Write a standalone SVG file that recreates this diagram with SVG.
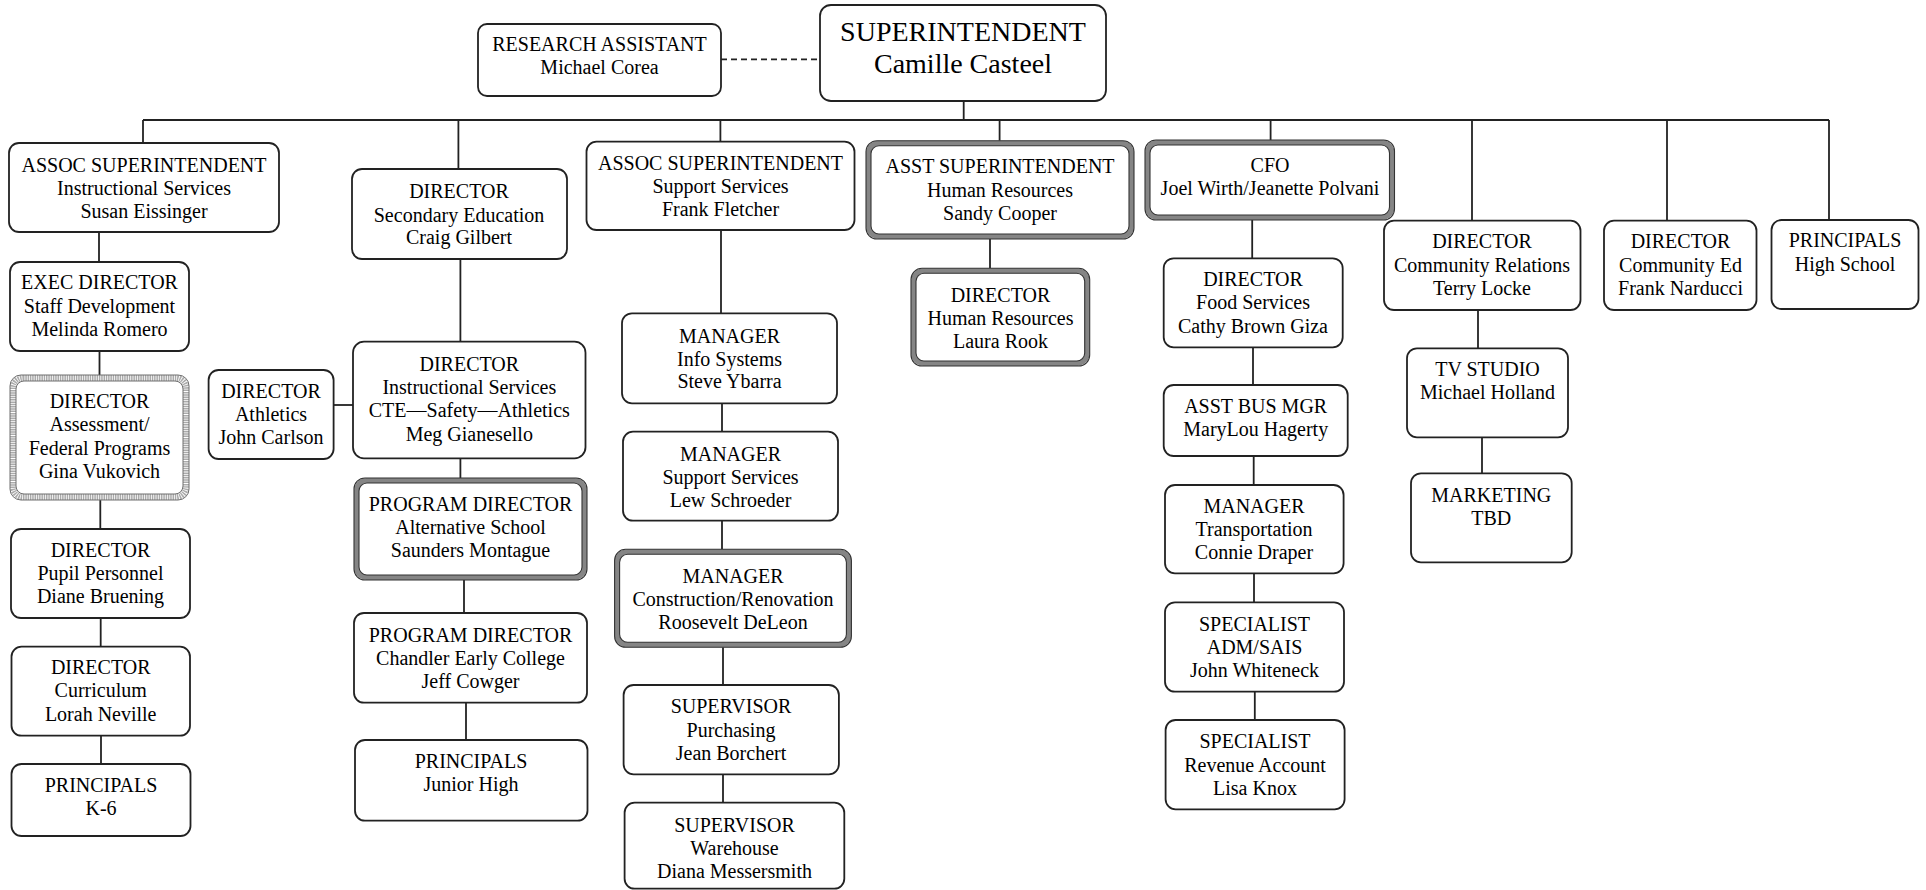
<svg xmlns="http://www.w3.org/2000/svg" width="1926" height="890" viewBox="0 0 1926 890">
<style>
.b{fill:#fff;stroke:#222;stroke-width:1.8}
.band{fill:#fff;stroke:#858585;stroke-width:5}
.lband{fill:#fff;stroke:#ababab;stroke-width:6;stroke-dasharray:1.5,0.8}
.edge{fill:none;stroke:#333;stroke-width:1.1}
.ledge{fill:none;stroke:#6f6f6f;stroke-width:1}
.t{font-family:"Liberation Serif","Times New Roman",serif;font-size:20px;fill:#000;text-anchor:middle}
.big{font-size:28px}
.c{stroke:#222;stroke-width:1.8;fill:none}
.d{stroke:#222;stroke-width:1.8;fill:none;stroke-dasharray:6,4}
</style>
<rect width="1926" height="890" fill="#fff"/>
<g id="connectors">
<line class="c" x1="963.7" y1="100" x2="963.7" y2="120"/>
<line class="c" x1="143" y1="120" x2="1829" y2="120"/>
<line class="c" x1="143" y1="120" x2="143" y2="143"/>
<line class="c" x1="458.4" y1="120" x2="458.4" y2="169"/>
<line class="c" x1="720.4" y1="120" x2="720.4" y2="141.7"/>
<line class="c" x1="999.6" y1="120" x2="999.6" y2="140.7"/>
<line class="c" x1="1270.6" y1="120" x2="1270.6" y2="140"/>
<line class="c" x1="1472" y1="120" x2="1472" y2="220.7"/>
<line class="c" x1="1667" y1="120" x2="1667" y2="220.7"/>
<line class="c" x1="1829" y1="120" x2="1829" y2="220"/>
<line class="d" x1="721" y1="59.3" x2="820" y2="59.3"/>
<line class="c" x1="99" y1="232" x2="99" y2="262"/>
<line class="c" x1="99.5" y1="351" x2="99.5" y2="375"/>
<line class="c" x1="100.3" y1="500" x2="100.3" y2="529"/>
<line class="c" x1="100.7" y1="618" x2="100.7" y2="646.7"/>
<line class="c" x1="101" y1="735.7" x2="101" y2="764"/>
<line class="c" x1="460.4" y1="259" x2="460.4" y2="341.7"/>
<line class="c" x1="460.4" y1="458.3" x2="460.4" y2="478"/>
<line class="c" x1="464" y1="580" x2="464" y2="613"/>
<line class="c" x1="466" y1="702.7" x2="466" y2="740"/>
<line class="c" x1="333.6" y1="405" x2="353" y2="405"/>
<line class="c" x1="721" y1="230" x2="721" y2="313.3"/>
<line class="c" x1="722" y1="403.3" x2="722" y2="431.7"/>
<line class="c" x1="722" y1="520.7" x2="722" y2="549.3"/>
<line class="c" x1="723" y1="647.3" x2="723" y2="685"/>
<line class="c" x1="723" y1="774.3" x2="723" y2="802.7"/>
<line class="c" x1="990" y1="239" x2="990" y2="268.3"/>
<line class="c" x1="1252.2" y1="220" x2="1252.2" y2="258.3"/>
<line class="c" x1="1253" y1="347.3" x2="1253" y2="385"/>
<line class="c" x1="1253.7" y1="456" x2="1253.7" y2="485"/>
<line class="c" x1="1254" y1="573.3" x2="1254" y2="602.3"/>
<line class="c" x1="1254.8" y1="691.7" x2="1254.8" y2="720"/>
<line class="c" x1="1478" y1="310" x2="1478" y2="348.3"/>
<line class="c" x1="1482" y1="437.3" x2="1482" y2="473.3"/>
</g>
<g id="research-assistant">
<rect class="b" x="478" y="24" width="243" height="72" rx="9"/>
<text class="t" x="599.5" y="51">RESEARCH ASSISTANT</text>
<text class="t" x="599.5" y="74">Michael Corea</text>
</g>
<g id="superintendent">
<rect class="b" x="820" y="5" width="286" height="96" rx="11"/>
<text class="t big" x="963" y="40.7">SUPERINTENDENT</text>
<text class="t big" x="963" y="72.7">Camille Casteel</text>
</g>
<g id="assoc-instructional">
<rect class="b" x="9" y="143" width="270" height="89" rx="10"/>
<text class="t" x="144" y="171.7">ASSOC SUPERINTENDENT</text>
<text class="t" x="144" y="195">Instructional Services</text>
<text class="t" x="144" y="218.3">Susan Eissinger</text>
</g>
<g id="dir-secondary">
<rect class="b" x="352" y="169" width="215" height="90" rx="10"/>
<text class="t" x="459" y="198.3">DIRECTOR</text>
<text class="t" x="459" y="221.7">Secondary Education</text>
<text class="t" x="459" y="244.3">Craig Gilbert</text>
</g>
<g id="assoc-support">
<rect class="b" x="586.5" y="141.7" width="268" height="88.3" rx="10"/>
<text class="t" x="720.5" y="170">ASSOC SUPERINTENDENT</text>
<text class="t" x="720.5" y="193.3">Support Services</text>
<text class="t" x="720.5" y="216">Frank Fletcher</text>
</g>
<g id="asst-supt-hr">
<rect class="band" x="868.5" y="143.2" width="263" height="93.3" rx="10"/>
<rect class="edge" x="866" y="140.7" width="268" height="98.3" rx="11"/>
<rect class="edge" x="871" y="145.7" width="258" height="88.3" rx="8"/>
<text class="t" x="1000" y="173.3">ASST SUPERINTENDENT</text>
<text class="t" x="1000" y="196.7">Human Resources</text>
<text class="t" x="1000" y="220">Sandy Cooper</text>
</g>
<g id="cfo">
<rect class="band" x="1147.5" y="142.5" width="244.5" height="75" rx="10"/>
<rect class="edge" x="1145" y="140" width="249.5" height="80" rx="11"/>
<rect class="edge" x="1150" y="145" width="239.5" height="70" rx="8"/>
<text class="t" x="1270" y="171.7">CFO</text>
<text class="t" x="1270" y="195">Joel Wirth/Jeanette Polvani</text>
</g>
<g id="dir-community-relations">
<rect class="b" x="1384" y="220.7" width="196.5" height="89.3" rx="10"/>
<text class="t" x="1482" y="248.3">DIRECTOR</text>
<text class="t" x="1482" y="271.7">Community Relations</text>
<text class="t" x="1482" y="295">Terry Locke</text>
</g>
<g id="dir-community-ed">
<rect class="b" x="1604" y="220.7" width="152.5" height="89.3" rx="10"/>
<text class="t" x="1680.5" y="248.3">DIRECTOR</text>
<text class="t" x="1680.5" y="271.7">Community Ed</text>
<text class="t" x="1680.5" y="295">Frank Narducci</text>
</g>
<g id="principals-hs">
<rect class="b" x="1771.5" y="220" width="147" height="89" rx="10"/>
<text class="t" x="1845" y="247.3">PRINCIPALS</text>
<text class="t" x="1845" y="270.7">High School</text>
</g>
<g id="exec-staff-dev">
<rect class="b" x="10" y="262" width="179" height="89" rx="10"/>
<text class="t" x="99.5" y="289">EXEC DIRECTOR</text>
<text class="t" x="99.5" y="312.5">Staff Development</text>
<text class="t" x="99.5" y="336">Melinda Romero</text>
</g>
<g id="dir-assessment">
<rect x="10" y="375" width="179" height="125" rx="11" fill="#fff"/>
<rect class="lband" x="13" y="378" width="173" height="119" rx="10"/>
<rect class="ledge" x="10" y="375" width="179" height="125" rx="11"/>
<rect class="ledge" x="16" y="381" width="167" height="113" rx="8"/>
<text class="t" x="99.5" y="408">DIRECTOR</text>
<text class="t" x="99.5" y="431.3">Assessment/</text>
<text class="t" x="99.5" y="454.7">Federal Programs</text>
<text class="t" x="99.5" y="478">Gina Vukovich</text>
</g>
<g id="dir-pupil">
<rect class="b" x="11" y="529" width="179" height="89" rx="10"/>
<text class="t" x="100.5" y="556.7">DIRECTOR</text>
<text class="t" x="100.5" y="580">Pupil Personnel</text>
<text class="t" x="100.5" y="603.3">Diane Bruening</text>
</g>
<g id="dir-curriculum">
<rect class="b" x="11.5" y="646.7" width="178.5" height="89" rx="10"/>
<text class="t" x="100.7" y="674">DIRECTOR</text>
<text class="t" x="100.7" y="697.3">Curriculum</text>
<text class="t" x="100.7" y="720.7">Lorah Neville</text>
</g>
<g id="principals-k6">
<rect class="b" x="11.5" y="764" width="179" height="72" rx="10"/>
<text class="t" x="101" y="792">PRINCIPALS</text>
<text class="t" x="101" y="815.3">K-6</text>
</g>
<g id="dir-athletics">
<rect class="b" x="208.6" y="370" width="125" height="89" rx="10"/>
<text class="t" x="271" y="397.7">DIRECTOR</text>
<text class="t" x="271" y="420.7">Athletics</text>
<text class="t" x="271" y="444">John Carlson</text>
</g>
<g id="dir-instructional">
<rect class="b" x="353" y="341.7" width="232.5" height="116.6" rx="11"/>
<text class="t" x="469.3" y="370.7">DIRECTOR</text>
<text class="t" x="469.3" y="394">Instructional Services</text>
<text class="t" x="469.3" y="417.3">CTE—Safety—Athletics</text>
<text class="t" x="469.3" y="440.7">Meg Gianesello</text>
</g>
<g id="pd-alternative">
<rect class="band" x="356.5" y="480.5" width="228" height="97" rx="10"/>
<rect class="edge" x="354" y="478" width="233" height="102" rx="11"/>
<rect class="edge" x="359" y="483" width="223" height="92" rx="8"/>
<text class="t" x="470.5" y="510.7">PROGRAM DIRECTOR</text>
<text class="t" x="470.5" y="534">Alternative School</text>
<text class="t" x="470.5" y="557.3">Saunders Montague</text>
</g>
<g id="pd-chandler">
<rect class="b" x="354" y="613" width="233" height="89.7" rx="10"/>
<text class="t" x="470.5" y="641.7">PROGRAM DIRECTOR</text>
<text class="t" x="470.5" y="665">Chandler Early College</text>
<text class="t" x="470.5" y="688.3">Jeff Cowger</text>
</g>
<g id="principals-jh">
<rect class="b" x="355" y="740" width="232.5" height="80.7" rx="10"/>
<text class="t" x="471" y="768">PRINCIPALS</text>
<text class="t" x="471" y="791.3">Junior High</text>
</g>
<g id="mgr-info-systems">
<rect class="b" x="622" y="313.3" width="215" height="90" rx="10"/>
<text class="t" x="729.5" y="342.7">MANAGER</text>
<text class="t" x="729.5" y="366">Info Systems</text>
<text class="t" x="729.5" y="388.3">Steve Ybarra</text>
</g>
<g id="mgr-support">
<rect class="b" x="623" y="431.7" width="215" height="89" rx="10"/>
<text class="t" x="730.5" y="460.7">MANAGER</text>
<text class="t" x="730.5" y="484">Support Services</text>
<text class="t" x="730.5" y="507.3">Lew Schroeder</text>
</g>
<g id="mgr-construction">
<rect class="band" x="617.1" y="551.8" width="231.8" height="93" rx="10"/>
<rect class="edge" x="614.6" y="549.3" width="236.8" height="98" rx="11"/>
<rect class="edge" x="619.6" y="554.3" width="226.8" height="88" rx="8"/>
<text class="t" x="733" y="582.7">MANAGER</text>
<text class="t" x="733" y="606">Construction/Renovation</text>
<text class="t" x="733" y="629.3">Roosevelt DeLeon</text>
</g>
<g id="sup-purchasing">
<rect class="b" x="623.6" y="685" width="215.3" height="89.3" rx="10"/>
<text class="t" x="731" y="713.3">SUPERVISOR</text>
<text class="t" x="731" y="736.7">Purchasing</text>
<text class="t" x="731" y="760">Jean Borchert</text>
</g>
<g id="sup-warehouse">
<rect class="b" x="624.6" y="802.7" width="219.7" height="86" rx="10"/>
<text class="t" x="734.5" y="831.7">SUPERVISOR</text>
<text class="t" x="734.5" y="855">Warehouse</text>
<text class="t" x="734.5" y="877.7">Diana Messersmith</text>
</g>
<g id="dir-hr">
<rect class="band" x="913.5" y="270.8" width="173.7" height="92.7" rx="10"/>
<rect class="edge" x="911" y="268.3" width="178.7" height="97.7" rx="11"/>
<rect class="edge" x="916" y="273.3" width="168.7" height="87.7" rx="8"/>
<text class="t" x="1000.5" y="301.7">DIRECTOR</text>
<text class="t" x="1000.5" y="325">Human Resources</text>
<text class="t" x="1000.5" y="347.7">Laura Rook</text>
</g>
<g id="dir-food">
<rect class="b" x="1163.7" y="258.3" width="179" height="89" rx="10"/>
<text class="t" x="1253" y="286">DIRECTOR</text>
<text class="t" x="1253" y="309.3">Food Services</text>
<text class="t" x="1253" y="332.7">Cathy Brown Giza</text>
</g>
<g id="asst-bus-mgr">
<rect class="b" x="1163.7" y="385" width="184" height="71" rx="10"/>
<text class="t" x="1255.7" y="412.7">ASST BUS MGR</text>
<text class="t" x="1255.7" y="436">MaryLou Hagerty</text>
</g>
<g id="mgr-transportation">
<rect class="b" x="1165" y="485" width="178.6" height="88.3" rx="10"/>
<text class="t" x="1254" y="512.7">MANAGER</text>
<text class="t" x="1254" y="536">Transportation</text>
<text class="t" x="1254" y="559.3">Connie Draper</text>
</g>
<g id="spec-adm-sais">
<rect class="b" x="1165" y="602.3" width="179" height="89.4" rx="10"/>
<text class="t" x="1254.5" y="630.7">SPECIALIST</text>
<text class="t" x="1254.5" y="654">ADM/SAIS</text>
<text class="t" x="1254.5" y="677.3">John Whiteneck</text>
</g>
<g id="spec-revenue">
<rect class="b" x="1165.6" y="720" width="179" height="89.3" rx="10"/>
<text class="t" x="1255" y="748.3">SPECIALIST</text>
<text class="t" x="1255" y="771.7">Revenue Account</text>
<text class="t" x="1255" y="795">Lisa Knox</text>
</g>
<g id="tv-studio">
<rect class="b" x="1407" y="348.3" width="161" height="89" rx="10"/>
<text class="t" x="1487.5" y="376">TV STUDIO</text>
<text class="t" x="1487.5" y="399.3">Michael Holland</text>
</g>
<g id="marketing">
<rect class="b" x="1411" y="473.3" width="160.7" height="89" rx="10"/>
<text class="t" x="1491.3" y="501.7">MARKETING</text>
<text class="t" x="1491.3" y="525">TBD</text>
</g>
</svg>
